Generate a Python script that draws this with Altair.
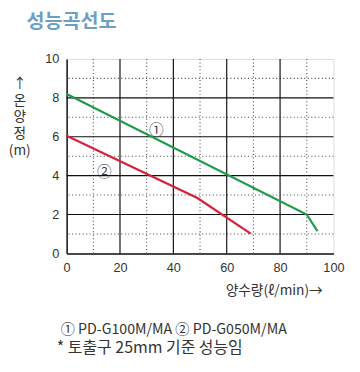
import altair as alt
import pandas as pd

# Data
g_flow = [0, 90, 94]
g_head = [8.2, 2.0, 1.15]
r_flow = [0, 49, 69]
r_head = [6.05, 2.85, 1.02]
series_names = ["PD-G100M/MA", "PD-G050M/MA"]

label_text = ["①", "②"]
label_x = [33.6, 14.1]
label_y = [6.32, 4.18]

x_ticks = [0, 20, 40, 60, 80, 100]
y_ticks = [0, 2, 4, 6, 8, 10]
x_major = [20, 40, 60, 80]
y_major = [2, 4, 6, 8]
x_minor = [10, 30, 50, 70, 90]
y_minor = [1, 3, 5, 7, 9]

lines_df = pd.DataFrame(
    {"flow": g_flow + r_flow,
     "head": g_head + r_head,
     "series": [series_names[0]] * len(g_flow) + [series_names[1]] * len(r_flow)}
)
labels_df = pd.DataFrame({"t": label_text, "x": label_x, "y": label_y})

FONT = "Liberation Sans"
KFONT = "Noto Sans CJK KR"

xscale = alt.Scale(domain=[0, 100], nice=False)
yscale = alt.Scale(domain=[0, 10], nice=False)

xaxis = alt.Axis(values=x_ticks, grid=False,
                 domainColor="#111", domainWidth=1.5, ticks=False,
                 labelFont=FONT, labelFontSize=13, labelColor="#333",
                 labelPadding=9, title=None, labelFlush=False, labelOverlap=False)
yaxis = alt.Axis(values=y_ticks, grid=False,
                 domainColor="#111", domainWidth=1.5, ticks=False,
                 labelFont=FONT, labelFontSize=13, labelColor="#333",
                 labelPadding=8, title=None, labelOverlap=False)

xminor = alt.Chart(pd.DataFrame({"x": x_minor})).mark_rule(
    color="#444", strokeWidth=1.1, strokeDash=[1, 2.6]).encode(
    x=alt.X("x:Q", scale=xscale, axis=xaxis))
yminor = alt.Chart(pd.DataFrame({"y": y_minor})).mark_rule(
    color="#444", strokeWidth=1.1, strokeDash=[1, 2.6]).encode(
    y=alt.Y("y:Q", scale=yscale, axis=yaxis))
xmajor = alt.Chart(pd.DataFrame({"x": x_major})).mark_rule(
    color="#111", strokeWidth=1.2).encode(
    x=alt.X("x:Q", scale=xscale, axis=xaxis))
ymajor = alt.Chart(pd.DataFrame({"y": y_major})).mark_rule(
    color="#111", strokeWidth=1.2).encode(
    y=alt.Y("y:Q", scale=yscale, axis=yaxis))

base_lines = alt.Chart(lines_df).mark_line(strokeWidth=2.2).encode(
    x=alt.X("flow:Q", scale=xscale, axis=xaxis),
    y=alt.Y("head:Q", scale=yscale, axis=yaxis),
    color=alt.Color("series:N", scale=alt.Scale(domain=series_names,
                                                range=["#1f9a4a", "#d6203c"]),
                    legend=None),
)

labels = alt.Chart(labels_df).mark_text(font=KFONT, fontSize=15, color="#444",
                                        align="center", baseline="middle").encode(
    x=alt.X("x:Q", scale=xscale, axis=xaxis),
    y=alt.Y("y:Q", scale=yscale, axis=yaxis), text="t:N")

one = pd.DataFrame({"a": [0]})

title = alt.Chart(one).mark_text(text="성능곡선도", font=KFONT, fontSize=20,
                                 fontWeight="bold", color="#6d9fc4",
                                 align="left", baseline="middle").encode(
    x=alt.value(-41), y=alt.value(-37.5))

ytitle = alt.Chart(one).mark_text(text=["↑", "온", "양", "정", "(m)"], font=KFONT,
                                  fontSize=14, color="#333", lineHeight=17,
                                  align="center", baseline="top").encode(
    x=alt.value(-48), y=alt.value(19))

xtitle = alt.Chart(one).mark_text(text="양수량(ℓ/min)→", font=KFONT, fontSize=14,
                                  color="#333", align="right",
                                  baseline="middle").encode(
    x=alt.value(262), y=alt.value(238))

foot1 = alt.Chart(one).mark_text(text="① PD-G100M/MA   ② PD-G050M/MA", font=KFONT,
                                 fontSize=14.5, color="#333", align="left",
                                 baseline="middle").encode(
    x=alt.value(-6), y=alt.value(277))

foot2 = alt.Chart(one).mark_text(text="* 토출구 25mm 기준 성능임", font=KFONT,
                                 fontSize=16.3, color="#333", align="left",
                                 baseline="middle").encode(
    x=alt.value(-10), y=alt.value(296))

chart = alt.layer(xminor, yminor, xmajor, ymajor, base_lines, labels, title,
                  ytitle, xtitle, foot1, foot2).properties(
    width=273, height=199,
    autosize=alt.AutoSizeParams(type="none"),
    padding={"left": 60, "top": 48, "right": 19, "bottom": 108},
).configure_view(stroke="#111", strokeWidth=1.5).configure(background="white")

chart.save("out.html", embed_options={"renderer": "svg", "actions": False})
